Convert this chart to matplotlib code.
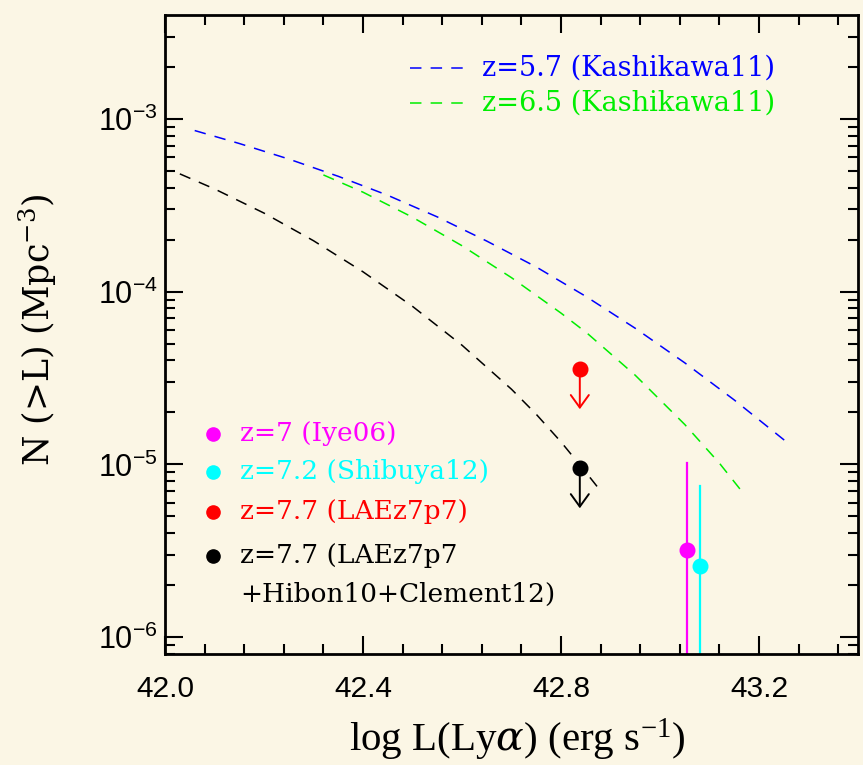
import numpy as np
import matplotlib
matplotlib.use("Agg")
import matplotlib.pyplot as plt
from matplotlib.ticker import FixedLocator, LogLocator, NullFormatter

plt.rcParams['mathtext.fontset'] = 'dejavuserif'
plt.rcParams['font.family'] = ['Liberation Sans', 'DejaVu Sans']

# ---- data ----
z57_logL = [42.06, 42.15, 42.25, 42.35, 42.45, 42.55, 42.65, 42.75, 42.85,
            42.95, 43.05, 43.15, 43.263]
z57_logN = [-3.067, -3.142, -3.232, -3.332, -3.442, -3.567, -3.707, -3.857, -4.027,
            -4.212, -4.412, -4.627, -4.887]

z65_logL = [42.32, 42.40, 42.50, 42.60, 42.70, 42.80, 42.853, 42.95, 43.05, 43.12, 43.168]
z65_logN = [-3.324, -3.424, -3.569, -3.734, -3.919, -4.124, -4.241, -4.484, -4.769,
            -4.993, -5.166]

z77_logL = [42.03, 42.10, 42.20, 42.30, 42.40, 42.50, 42.60, 42.70, 42.75, 42.80,
            42.85, 42.879]
z77_logN = [-3.318, -3.405, -3.545, -3.705, -3.885, -4.085, -4.31, -4.565, -4.71,
            -4.87, -5.045, -5.15]

iye_L, iye_N, iye_top = 43.055, 3.19e-6, 1.02e-5
shib_L, shib_N, shib_top = 43.081, 2.58e-6, 7.5e-6
lae_L, lae_N = 42.838, 3.56e-5
comb_L, comb_N = 42.838, 9.5e-6

xticks = [42.0, 42.4, 42.8, 43.2]
xticklabels = ['42.0', '42.4', '42.8', '43.2']
yticks = [1e-3, 1e-4, 1e-5, 1e-6]
yticklabels = [r'$\mathregular{10^{-3}}$', r'$\mathregular{10^{-4}}$',
               r'$\mathregular{10^{-5}}$', r'$\mathregular{10^{-6}}$']

curve_labels = ['z=5.7 (Kashikawa11)', 'z=6.5 (Kashikawa11)']
point_labels = ['z=7 (Iye06)', 'z=7.2 (Shibuya12)', 'z=7.7 (LAEz7p7)',
                'z=7.7 (LAEz7p7', '+Hibon10+Clement12)']

BLUE = '#0000ff'
GREEN = '#00ee00'
MAG = '#ff00ff'
CYAN = '#00ffff'
RED = '#ff0000'
BG = '#fbf6e5'

W, H = 863, 765
fig = plt.figure(figsize=(W / 100, H / 100), dpi=100, facecolor=BG)
ax = fig.add_axes([165 / W, 1 - 654 / H, 693 / W, 639 / H], facecolor=BG)
ax.set_yscale('log')
ax.set_xlim(42.0, 43.4)
ax.set_ylim(10 ** -6.098, 10 ** -2.398)

dash = [7.5, 6.0]
lw = 1.1
for xs, ys, c in [(z57_logL, z57_logN, BLUE), (z65_logL, z65_logN, GREEN),
                  (z77_logL, z77_logN, 'black')]:
    ln, = ax.plot(xs, 10 ** np.array(ys), color=c, lw=lw)
    ln.set_dashes(dash)

# error bars for Iye06 and Shibuya12 (extend below the axis)
ax.plot([iye_L, iye_L], [iye_top, 1e-8], color=MAG, lw=1.6)
ax.plot([shib_L, shib_L], [shib_top, 1e-8], color=CYAN, lw=1.6)
ax.plot([iye_L], [iye_N], 'o', color=MAG, ms=10.5, zorder=5)
ax.plot([shib_L], [shib_N], 'o', color=CYAN, ms=10.5, zorder=5)

# upper limits
for L, N, c in [(lae_L, lae_N, RED), (comb_L, comb_N, 'black')]:
    ax.plot([L], [N], 'o', color=c, ms=10.5, zorder=5)
    ax.annotate('', xy=(L, N * 10 ** -0.232), xytext=(L, N),
                arrowprops=dict(arrowstyle='->,head_length=0.9,head_width=0.65',
                                color=c, lw=1.4, shrinkA=0, shrinkB=0))

# ticks
ax.xaxis.set_major_locator(FixedLocator(xticks))
ax.xaxis.set_minor_locator(FixedLocator(np.round(np.arange(42.0, 43.401, 0.08), 3)))
ax.set_xticklabels(xticklabels)
ax.yaxis.set_major_locator(FixedLocator(yticks))
ax.set_yticklabels(yticklabels)
ax.yaxis.set_minor_locator(LogLocator(base=10, subs=np.arange(2, 10)))
ax.yaxis.set_minor_formatter(NullFormatter())
ax.tick_params(which='both', direction='in', top=True, right=True, color='black', width=1.5)
ax.tick_params(which='major', length=13)
ax.tick_params(which='minor', length=7)
ax.tick_params(axis='x', which='major', pad=15, labelsize=21.5)
ax.tick_params(axis='y', which='major', pad=5, labelsize=22)
for s in ax.spines.values():
    s.set_linewidth(2)

# axis labels
fig.text(517 / W, 1 - 740 / H, r'log L(Ly$\alpha$) (erg s$\mathregular{^{-1}}$)',
         ha='center', va='center', fontsize=29.5, family='Liberation Serif')
fig.text(38 / W, 1 - 330 / H, r'N (>L) (Mpc$\mathregular{^{-3}}$)',
         ha='center', va='center', rotation=90, fontsize=25, family='DejaVu Serif')

# top legend (curves)
tr = ax.transAxes
def px2ax(x, y):
    return ((x - 165) / 693, (654 - y) / 639)

for (yy, c, t) in [(68, BLUE, curve_labels[0]), (103, GREEN, curve_labels[1])]:
    x0, y0 = px2ax(410, yy)
    x1, _ = px2ax(466, yy)
    ln, = ax.plot([x0, x1], [y0, y0], color=c, lw=lw, transform=tr)
    ln.set_dashes(dash)
    xt, _ = px2ax(482, yy)
    ax.text(xt, y0, t, color=c, transform=tr, ha='left', va='center',
            fontsize=19.5, family='DejaVu Serif')

# lower legend (points)
for (yy, c, t, dot) in [(434, MAG, point_labels[0], True),
                        (472, CYAN, point_labels[1], True),
                        (512, RED, point_labels[2], True),
                        (556, 'black', point_labels[3], True),
                        (594, 'black', point_labels[4], False)]:
    xd, yd = px2ax(213, yy)
    if dot:
        ax.plot([xd], [yd], 'o', color=c, ms=9.5, transform=tr)
    xt, _ = px2ax(240, yy)
    ax.text(xt, yd, t, color=c, transform=tr, ha='left', va='center',
            fontsize=19, family='DejaVu Serif')

fig.savefig('out.png', dpi=100, facecolor=BG)
